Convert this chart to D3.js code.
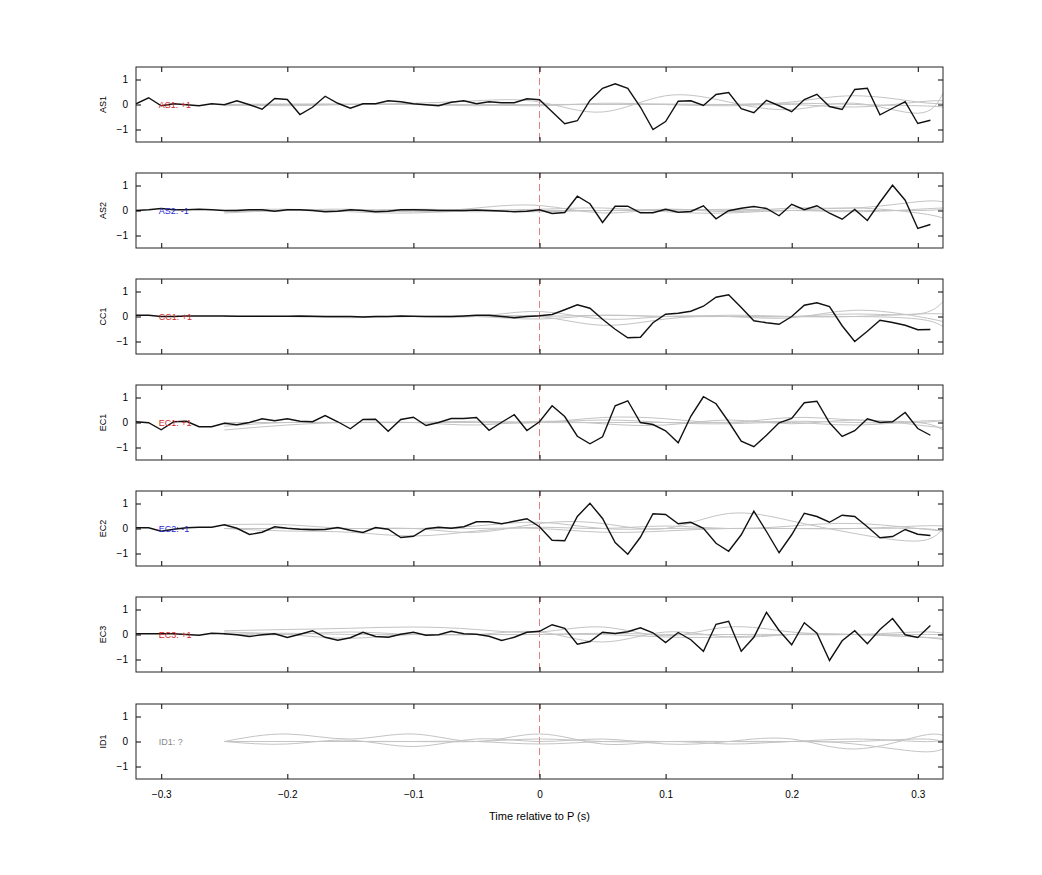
<!DOCTYPE html>
<html><head><meta charset="utf-8">
<script src="https://cdn.jsdelivr.net/npm/d3@7"></script>
<style>body{margin:0;background:#fff}svg{font-family:"Liberation Sans",Arial,sans-serif}</style>
</head><body><svg id="c" width="1042" height="875"></svg>
<script>
const channels=["AS1","AS2","CC1","EC1","EC2","EC3","ID1"];
const labels=["AS1: +1","AS2: -1","CC1: +1","EC1: +1","EC2: -1","EC3: +1","ID1: ?"];
const labelColors=["#d42a2a","#2a2ad4","#d42a2a","#d42a2a","#2a2ad4","#d42a2a","#888"];
const blackT=d3.range(64).map(i=>+(-0.32+i*0.01).toFixed(2));
const AS1=[.03,.27,-.05,.03,-.01,-.05,.03,-.01,.15,-.01,-.19,.24,.2,-.4,-.11,.33,.05,-.15,.03,.03,.15,.11,.03,-.01,-.05,.09,.15,.03,.11,.07,.07,.23,.19,
 -.29,-.77,-.65,.16,.65,.83,.65,-.1,-1.0,-.68,.13,.15,-.04,.4,.48,-.17,-.33,.17,-.05,-.29,.2,.41,-.08,-.2,.6,.65,-.41,-.15,.11,-.76,-.63];
const AS2=[0,.03,.08,.03,.03,.05,.03,0,0,.03,.03,-.03,.03,.03,0,-.05,-.03,.03,0,-.05,-.03,.03,.03,.02,0,0,0,.02,0,-.02,-.05,-.03,.03,
 -.12,-.08,.57,.27,-.48,.17,.17,-.09,-.09,.05,-.07,-.04,.19,-.33,-.01,.09,.16,.08,-.21,.25,.03,.19,-.11,-.35,.04,-.4,.33,1.01,.41,-.72,-.56];
const CC1=[.05,.05,0,0,.02,.02,.02,.02,.01,.01,.01,.01,.01,.02,.01,0,0,0,-.02,0,0,.02,.01,0,0,0,.02,.05,.05,0,-.05,0,.03,
 .08,.27,.47,.33,-.11,-.51,-.85,-.83,-.25,.09,.13,.21,.41,.77,.87,.36,-.17,-.25,-.31,0,.45,.55,.4,-.37,-1.0,-.59,-.15,-.24,-.35,-.53,-.52];
const EC1=[.03,-.01,-.29,.03,.05,-.17,-.17,-.03,-.09,0,.15,.07,.15,.05,.03,.28,.03,-.25,.12,.13,-.35,.12,.21,-.12,0,.16,.16,.2,-.31,.01,.31,-.32,.03,
 .67,.24,-.55,-.85,-.57,.67,.87,0,-.08,-.33,-.81,.25,1.03,.75,.03,-.75,-.97,-.51,-.01,.16,.79,.85,-.01,-.56,-.33,.15,0,.03,.4,-.24,-.51];
const EC2=[.03,.03,-.11,-.03,.03,.05,.05,.15,.01,-.24,-.15,.07,.01,-.03,-.05,-.04,.04,-.07,-.16,.04,-.03,-.36,-.31,-.01,.05,.01,.07,.27,.27,.19,.29,.39,.07,
 -.47,-.49,.48,1.01,.4,-.56,-1.03,-.35,.59,.56,.19,.25,.01,-.59,-.91,-.25,.69,-.12,-.97,-.25,.61,.48,.25,.53,.48,.07,-.37,-.32,-.04,-.23,-.28];
const EC3=[.03,.03,.03,.03,0,-.03,.05,.03,-.01,-.08,-.01,.03,-.12,.01,.15,-.11,-.23,-.13,.09,-.08,-.11,.01,.09,-.03,-.01,.13,.03,.01,-.07,-.24,-.11,.09,.13,
 .39,.25,-.39,-.28,.09,.04,.11,.27,.07,-.32,.08,-.21,-.67,.41,.53,-.67,-.11,.89,.16,-.41,.47,.05,-1.04,-.25,.15,-.37,.2,.64,-.01,-.12,.36];
const blackSeries=[AS1,AS2,CC1,EC1,EC2,EC3,null];
const grayT=[-0.25,-0.2,-0.15,-0.1,-0.05,0,0.05,0.1,0.15,0.2,0.25,0.3,0.32];
const grayAS1=[[0,0,0,.05,.15,.1,-.3,.35,.1,-.2,.05,-.35,.45],[0,.02,0,0,0,0,0,.02,0,.1,.35,.1,.05],[0,-.05,0,0,-.05,0,0,0,-.05,0,-.1,.1,.15],[-.05,0,.02,0,0,-.05,.05,0,0,.05,0,-.05,-.1]];
const grayAS2=[[-.05,0,.05,-.05,.1,.2,-.1,.05,-.05,.1,.1,.35,.35],[0,.05,-.05,-.1,0,.05,.1,-.05,-.1,0,-.05,.05,.1],[-.1,0,0,0,-.05,0,0,.05,0,0,.1,-.1,-.3],[0,0,0,.05,0,-.05,0,0,.05,0,0,0,.05]];
const grayCC1=[[0,0,0,0,0,.2,-.1,0,0,0,.1,.1,.6],[0,0,-.05,0,0,0,-.35,-.1,0,-.05,.25,0,-.2],[0,0,0,0,0,0,.05,0,0,0,0,-.1,-.4],[0,0,0,0,0,-.1,.05,0,.05,0,0,.1,.1]];
const grayEC1=[[-.3,-.1,0,0,0,0,.2,.15,0,.2,.1,0,-.3],[-.15,0,0,0,-.1,.05,-.05,-.1,.1,-.05,.1,-.1,-.2],[0,0,0,0,0,0,.1,0,-.05,0,-.1,.05,.05],[0,0,0,0,.05,0,0,0,0,.05,0,0,.1]];
const grayEC2=[[.15,.15,0,0,-.15,.2,.2,0,.6,.3,-.2,-.5,0],[0,-.1,-.15,-.3,-.1,.05,0,.1,0,.1,.2,0,-.1],[0,0,0,0,0,0,-.15,-.1,0,0,0,.1,.1],[0,0,0,0,.1,.25,0,0,0,0,0,0,-.1]];
const grayEC3=[[.15,.2,.25,.3,.2,.1,.3,-.05,.3,.1,0,-.1,-.2],[.1,0,-.15,0,0,.1,-.3,.1,-.1,0,0,0,0],[0,0,.1,0,0,0,0,-.1,-.1,0,0,-.1,-.15],[0,.05,0,0,0,0,.05,0,0,0,0,.1,.05]];
const grayID1=[[0,.3,.1,.3,0,.3,-.1,0,-.1,0,-.1,-.4,-.3],[0,-.1,.05,-.2,.1,0,.1,-.1,0,.1,-.3,.2,.25],[0,0,0,0,0,.1,0,0,0,0,.1,0,.05],[0,0,0,0,0,-.1,0,0,0,0,0,.1,0]];
const graySeries=[grayAS1,grayAS2,grayCC1,grayEC1,grayEC2,grayEC3,grayID1];
const xTicks=[-0.3,-0.2,-0.1,0,0.1,0.2,0.3];
const yTicks=[-1,0,1];

const svg=d3.select("#c");
const L=136,R=943,H=75,tops=[67,173,279,385,491,597,704];
const x=d3.scaleLinear().domain([-0.32,0.32]).range([L,R]);
channels.forEach((ch,i)=>{
  const top=tops[i];
  const y=d3.scaleLinear().domain([-1.5,1.5]).range([top+H,top]);
  const g=svg.append("g");
  const clipId="cl"+i;
  g.append("clipPath").attr("id",clipId).append("rect").attr("x",L).attr("y",top).attr("width",R-L).attr("height",H);
  const pg=g.append("g").attr("clip-path",`url(#${clipId})`);
  pg.append("line").attr("x1",x(0)).attr("x2",x(0)).attr("y1",top).attr("y2",top+H)
    .attr("stroke","#e08080").attr("stroke-dasharray","7,4").attr("stroke-width",1);
  const gl=d3.line().x((d,j)=>x(grayT[j])).y(d=>y(d)).curve(d3.curveNatural);
  graySeries[i].forEach(s=>pg.append("path").attr("d",gl(s)).attr("fill","none").attr("stroke","#c4c4c4").attr("stroke-width",1));
  g.append("text").attr("x",x(-0.302)).attr("y",y(0)+3.5).attr("font-size",9).attr("fill",labelColors[i]).text(labels[i]);
  if(blackSeries[i]){
    const bl=d3.line().x((d,j)=>x(blackT[j])).y(d=>y(d));
    pg.append("path").attr("d",bl(blackSeries[i])).attr("fill","none").attr("stroke","#111").attr("stroke-width",1.4);
  }
  // axes, inward ticks
  g.append("g").attr("transform",`translate(${L},0)`).call(d3.axisLeft(y).tickValues(yTicks).tickSize(-5).tickPadding(8).tickFormat(d3.format("d")))
    .call(a=>{a.select(".domain").remove();a.selectAll("text").attr("font-size",10).attr("font-family","Liberation Sans, Arial");});
  g.append("g").attr("transform",`translate(${R},0)`).call(d3.axisRight(y).tickValues(yTicks).tickSize(-5).tickFormat(""))
    .call(a=>a.select(".domain").remove());
  g.append("g").attr("transform",`translate(0,${top})`).call(d3.axisTop(x).tickValues(xTicks).tickSize(-5).tickFormat(""))
    .call(a=>a.select(".domain").remove());
  const bx=g.append("g").attr("transform",`translate(0,${top+H})`).call(d3.axisBottom(x).tickValues(xTicks).tickSize(-5).tickPadding(12).tickFormat(i===6?d3.format(""):""));
  bx.select(".domain").remove();
  bx.selectAll("text").attr("font-size",10).attr("font-family","Liberation Sans, Arial");
  g.append("rect").attr("x",L).attr("y",top).attr("width",R-L).attr("height",H).attr("fill","none").attr("stroke","#222").attr("stroke-width",1);
  g.append("text").attr("transform",`translate(106,${top+H/2}) rotate(-90)`).attr("text-anchor","middle").attr("font-size",9).text(ch);
});
svg.append("text").attr("x",x(0)).attr("y",820).attr("text-anchor","middle").attr("font-size",11).text("Time relative to P (s)");
</script></body></html>
